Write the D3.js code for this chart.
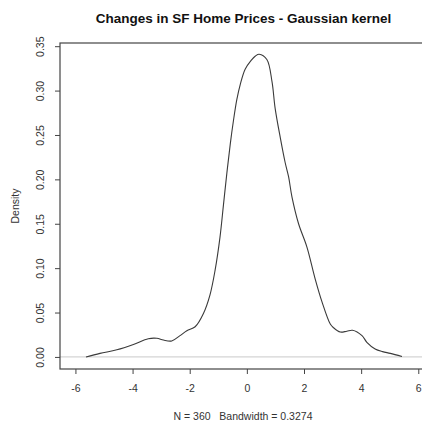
<!DOCTYPE html>
<html>
<head>
<meta charset="utf-8">
<script src="https://cdn.jsdelivr.net/npm/d3@7"></script>
<style>
  body { margin: 0; background: #fff; }
  svg { font-family: "Liberation Sans", Arial, sans-serif; }
  .axis text { font-size: 10.5px; fill: #333; }
  .axis line { stroke: #444; }
</style>
</head>
<body>
<div id="chart"></div>
<script>
// density estimate
var xVals = [-5.63, -5.14, -4.55, -3.97, -3.45, -3.15, -2.92, -2.63, -2.34, -2.10,
             -1.81, -1.52, -1.29, -1.11, -0.94, -0.82, -0.70, -0.58, -0.47, -0.35,
             -0.23, -0.06, 0.15, 0.30, 0.43, 0.70, 0.88, 0.99, 1.17, 1.34,
             1.46, 1.58, 1.81, 2.10, 2.39, 2.63, 2.92, 3.03, 3.27, 3.50,
             3.70, 4.03, 4.20, 4.49, 4.75, 5.02, 5.43];
var densVals = [0.000, 0.004, 0.008, 0.014, 0.0205, 0.021, 0.019, 0.018, 0.024, 0.0295,
                0.034, 0.049, 0.070, 0.098, 0.135, 0.171, 0.207, 0.240, 0.266, 0.290,
                0.307, 0.324, 0.334, 0.339, 0.341, 0.335, 0.310, 0.280, 0.247, 0.219,
                0.203, 0.180, 0.150, 0.124, 0.088, 0.062, 0.037, 0.033, 0.028, 0.029,
                0.030, 0.024, 0.0165, 0.009, 0.006, 0.004, 0.0005];
var xTicks = [-6, -4, -2, 0, 2, 4, 6];
var yTicks = [0, 0.05, 0.10, 0.15, 0.20, 0.25, 0.30, 0.35];

var titleText = "Changes in SF Home Prices - Gaussian kernel";
var subText = "N = 360   Bandwidth = 0.3274";
var yLabel = "Density";

var width = 422, height = 424;

var svg = d3.select("#chart").append("svg")
    .attr("width", width)
    .attr("height", height);

// plot region (R "usr" limits)
var x = d3.scaleLinear().domain([-6.54, 6.76]).range([60, 440]);
var y = d3.scaleLinear().domain([-0.0136, 0.3536]).range([369, 43]);

var data = xVals.map(function(v, i){ return { x: v, d: densVals[i] }; });

// zero line
svg.append("line")
    .attr("x1", x.range()[0]).attr("x2", x.range()[1])
    .attr("y1", y(0)).attr("y2", y(0))
    .attr("stroke", "#d4d4d4")
    .attr("stroke-width", 1.2);

// density curve
var line = d3.line()
    .x(function(d){ return x(d.x); })
    .y(function(d){ return y(d.d); })
    .curve(d3.curveCatmullRom.alpha(0.5));

svg.append("path")
    .datum(data)
    .attr("d", line)
    .attr("fill", "none")
    .attr("stroke", "#3a3a3a")
    .attr("stroke-width", 1.1);

// box
svg.append("rect")
    .attr("x", x.range()[0]).attr("y", y.range()[1])
    .attr("width", x.range()[1] - x.range()[0])
    .attr("height", y.range()[0] - y.range()[1])
    .attr("fill", "none")
    .attr("stroke", "#444")
    .attr("stroke-width", 1.2);

// x axis
var xAxis = svg.append("g")
    .attr("class", "axis")
    .attr("transform", "translate(0," + y.range()[0] + ")")
    .call(d3.axisBottom(x).tickValues(xTicks).tickSize(5).tickSizeOuter(0)
        .tickFormat(function(d){ return d; }));
xAxis.select(".domain").remove();
xAxis.selectAll("text").attr("dy", "0.71em")
    .attr("y", 16);

// y axis
var yAxis = svg.append("g")
    .attr("class", "axis")
    .attr("transform", "translate(" + x.range()[0] + ",0)")
    .call(d3.axisLeft(y).tickValues(yTicks).tickSize(5).tickSizeOuter(0)
        .tickFormat(d3.format(".2f")));
yAxis.select(".domain").remove();
yAxis.selectAll("text")
    .attr("transform", "rotate(-90)")
    .attr("x", 0)
    .attr("y", -16.5)
    .attr("dy", 0)
    .attr("text-anchor", "middle");

// title
svg.append("text")
    .text(titleText)
    .attr("x", 243.5)
    .attr("y", 22.5)
    .attr("text-anchor", "middle")
    .attr("font-weight", "bold")
    .attr("font-size", "13.5px")
    .attr("fill", "#111");

// sub label
svg.append("text")
    .text(subText)
    .attr("x", 243)
    .attr("y", 420)
    .attr("text-anchor", "middle")
    .attr("font-size", "10.5px")
    .attr("fill", "#333")
    .style("white-space", "pre");

// y label
svg.append("text")
    .text(yLabel)
    .attr("transform", "translate(19,206) rotate(-90)")
    .attr("text-anchor", "middle")
    .attr("font-size", "10.5px")
    .attr("fill", "#333");
</script>
</body>
</html>
